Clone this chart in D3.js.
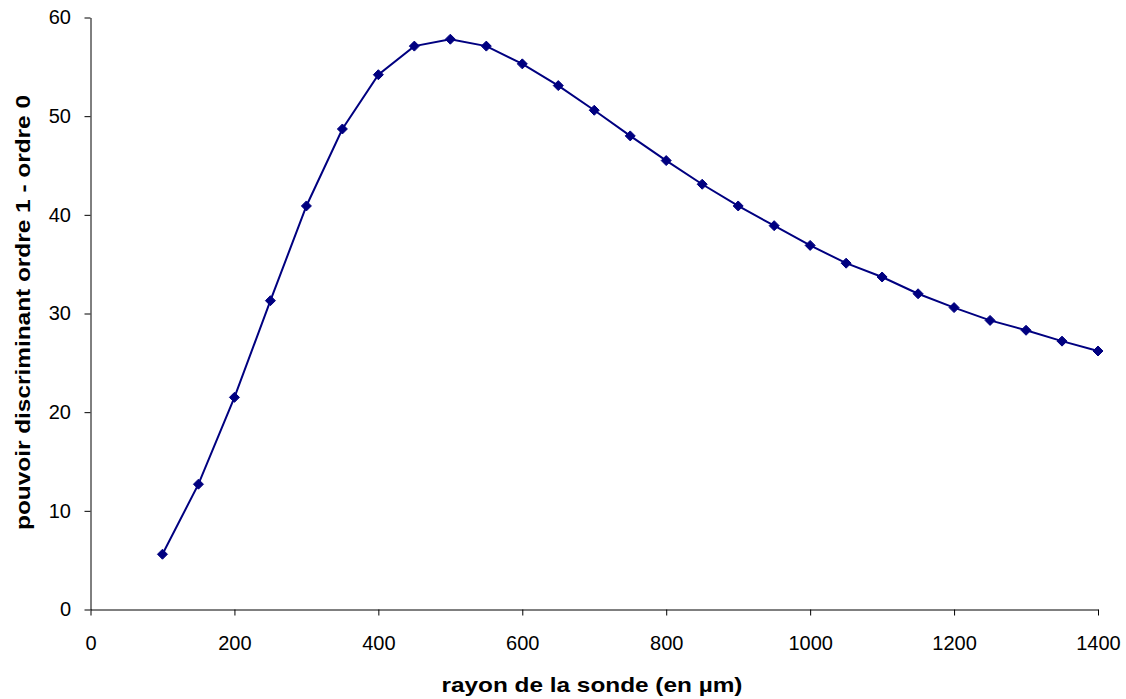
<!DOCTYPE html>
<html>
<head>
<meta charset="utf-8">
<script src="https://cdn.jsdelivr.net/npm/d3@7"></script>
<style>
  html, body { margin: 0; padding: 0; background: #fff; }
  svg { display: block; }
  text { font-family: "Liberation Sans", Arial, sans-serif; }
</style>
</head>
<body>
<svg id="chart" width="1126" height="699"></svg>
<script>
const rayon = [100,150,200,250,300,350,400,450,500,550,600,650,700,750,800,850,900,950,1000,1050,1100,1150,1200,1250,1300,1350,1400];
const pouvoir = [5.6,12.7,21.5,31.3,40.9,48.7,54.2,57.1,57.8,57.1,55.3,53.1,50.6,48.0,45.5,43.1,40.9,38.9,36.9,35.1,33.7,32.0,30.6,29.3,28.3,27.2,26.2];
const xTicks = [0,200,400,600,800,1000,1200,1400];
const yTicks = [0,10,20,30,40,50,60];
const xTitle = "rayon de la sonde (en µm)";
const yTitle = "pouvoir discriminant ordre 1 - ordre 0";

const svg = d3.select("#chart");
const m = {left: 90.5, right: 1098, top: 17.5, bottom: 609.5};
const x = d3.scaleLinear().domain([0, 1400]).range([m.left, m.right]);
const y = d3.scaleLinear().domain([0, 60]).range([m.bottom, m.top]);

const xAxis = svg.append("g")
  .attr("transform", `translate(0,${m.bottom})`)
  .call(d3.axisBottom(x).tickValues(xTicks).tickFormat(d3.format("d")).tickSize(6).tickPadding(20).tickSizeOuter(0));
const yAxis = svg.append("g")
  .attr("transform", `translate(${m.left},0)`)
  .call(d3.axisLeft(y).tickValues(yTicks).tickFormat(d3.format("d")).tickSize(6).tickPadding(13.5).tickSizeOuter(0));

[xAxis, yAxis].forEach(g => {
  g.attr("font-size", null).attr("font-family", null);
  g.select(".domain").attr("stroke", "#000").attr("stroke-width", 1);
  g.selectAll(".tick line").attr("stroke", "#000").attr("stroke-width", 1);
  g.selectAll(".tick text").attr("fill", "#000").style("font-size", "20px")
    .style("font-family", "'Liberation Sans', Arial, sans-serif");
});

const data = rayon.map((r, i) => ({r, v: pouvoir[i]}));

svg.append("path")
  .datum(data)
  .attr("fill", "none")
  .attr("stroke", "#000080")
  .attr("stroke-width", 2)
  .attr("d", d3.line().x(d => x(d.r)).y(d => y(d.v)));

svg.append("g").selectAll("path")
  .data(data)
  .join("path")
  .attr("transform", d => `translate(${x(d.r)},${y(d.v)})`)
  .attr("d", "M0,-5L5,0L0,5L-5,0Z")
  .attr("fill", "#000080")
  .attr("stroke", "#000080")
  .attr("stroke-width", 1);

svg.append("text")
  .attr("x", 592)
  .attr("y", 692)
  .attr("text-anchor", "middle")
  .attr("textLength", 301)
  .attr("lengthAdjust", "spacingAndGlyphs")
  .style("font-size", "21px")
  .style("font-weight", "bold")
  .text(xTitle);

svg.append("text")
  .attr("transform", `translate(30,312.5) rotate(-90)`)
  .attr("text-anchor", "middle")
  .attr("textLength", 435)
  .attr("lengthAdjust", "spacingAndGlyphs")
  .style("font-size", "21px")
  .style("font-weight", "bold")
  .text(yTitle);
</script>
</body>
</html>
